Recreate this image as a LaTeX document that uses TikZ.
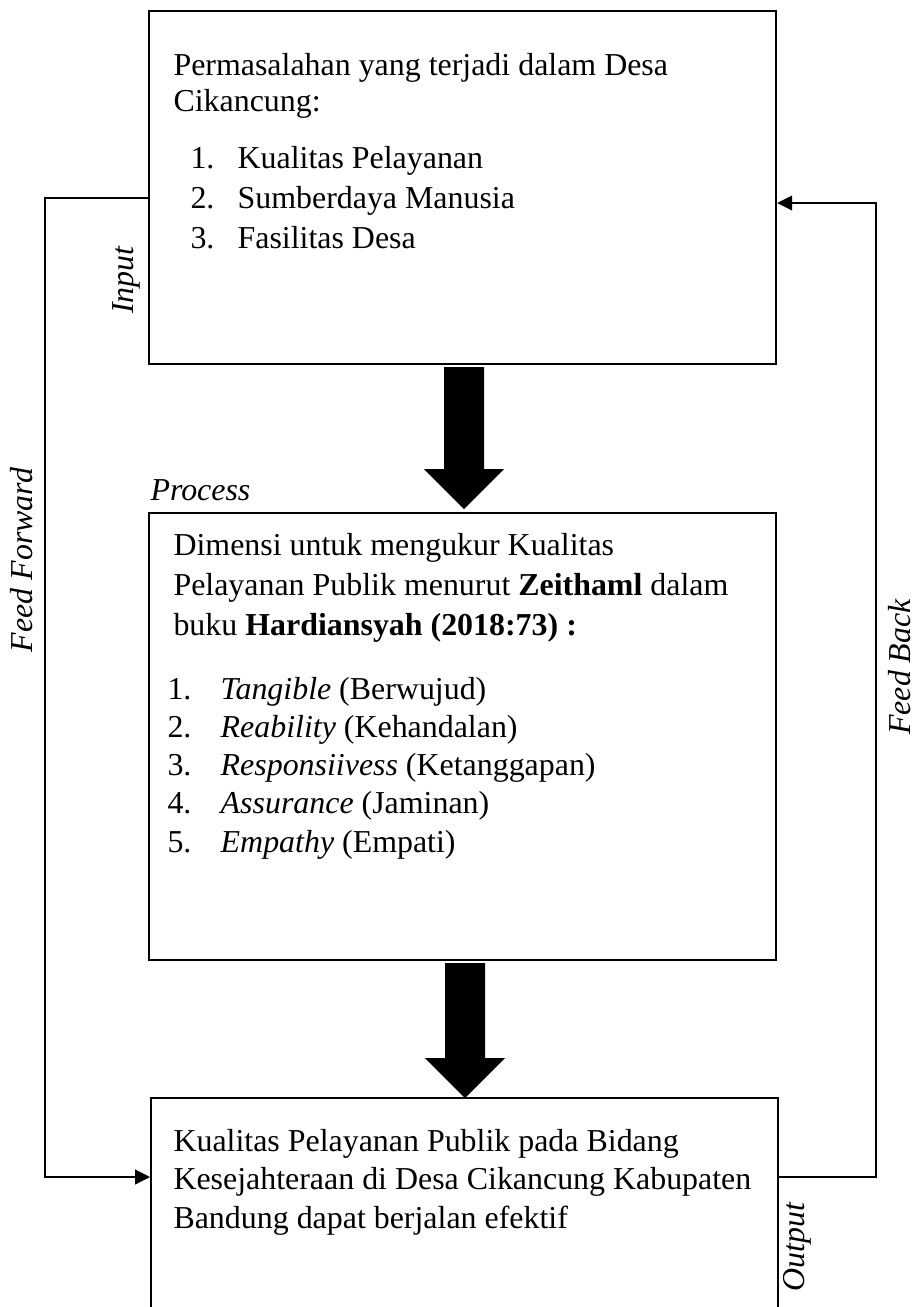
\documentclass[tikz,border=0pt]{standalone}
\usepackage{fontspec}
\setmainfont{Liberation Serif}
\usetikzlibrary{arrows.meta}

\tikzset{
  box/.style={draw, line width=0.8pt, anchor=north west, inner sep=0pt},
  boxtext/.style={anchor=base west, align=left, inner sep=0pt},
  flow/.style={line width=0.45pt, -{Triangle[length=5.6pt, width=5.6pt]}},
  tag/.style={font=\fontsize{12}{14}\selectfont\itshape, inner sep=0pt},
  bigarrow/.style={fill=black},
}
\newcommand{\itm}[2]{\makebox[#1][l]{#2}}

\begin{document}
\begin{tikzpicture}[x=0.376pt, y=-0.376pt]
    \useasboundingbox (0,0) rectangle (916,1307);
    \clip (0,0) rectangle (916,1307);

    % Main boxes
    \node[box, minimum width=235.8pt, minimum height=132.7pt] (input) at (148,10) {};
    \node[box, minimum width=235.8pt, minimum height=168.1pt] (process) at (148,512) {};
    \node[box, minimum width=235.8pt, minimum height=98pt] (output) at (150,1097) {};

    % Box texts (placed at the baseline of their last line)
    \node[boxtext, font=\fontsize{12}{13.2}\selectfont] (intitle) at (173,111)
        {Permasalahan yang terjadi dalam Desa\\Cikancung:};
    \node[boxtext, font=\fontsize{12}{14.9}\selectfont] (inlist) at (190,248)
        {\itm{17.7pt}{1.}Kualitas Pelayanan\\
         \itm{17.7pt}{2.}Sumberdaya Manusia\\
         \itm{17.7pt}{3.}Fasilitas Desa};
    \node[boxtext, font=\fontsize{12}{15}\selectfont] (prtitle) at (173,635)
        {Dimensi untuk mengukur Kualitas\\
         Pelayanan Publik menurut \textbf{Zeithaml} dalam\\
         buku \textbf{Hardiansyah (2018:73) :}};
    \node[boxtext, font=\fontsize{12}{14.3}\selectfont] (prlist) at (167,852)
        {\itm{20pt}{1.}\textit{Tangible} (Berwujud)\\
         \itm{20pt}{2.}\textit{Reability} (Kehandalan)\\
         \itm{20pt}{3.}\textit{Responsiivess} (Ketanggapan)\\
         \itm{20pt}{4.}\textit{Assurance} (Jaminan)\\
         \itm{20pt}{5.}\textit{Empathy} (Empati)};
    \node[boxtext, font=\fontsize{12}{14.3}\selectfont] (outtext) at (173,1228)
        {Kualitas Pelayanan Publik pada Bidang\\
         Kesejahteraan di Desa Cikancung Kabupaten\\
         Bandung dapat berjalan efektif};

    % Big arrows between boxes
    \fill[bigarrow] (444,367) -- (484,367) -- (484,469) -- (504,469) -- (464,509)
        -- (424,469) -- (444,469) -- cycle;
    \fill[bigarrow] (445,963) -- (485,963) -- (485,1058) -- (505,1058) -- (465,1098)
        -- (425,1058) -- (445,1058) -- cycle;

    % Feed forward and feed back lines
    \coordinate (fftop) at (45,198);
    \coordinate (ffbot) at (45,1177);
    \coordinate (fbtop) at (876,203);
    \coordinate (fbbot) at (876,1177);
    \draw[flow] (input.west |- fftop) -- (fftop) -- (ffbot) -- (output.west |- ffbot);
    \draw[flow] (output.east |- fbbot) -- (fbbot) -- (fbtop) -- (input.east |- fbtop);

    % Labels
    \node[tag, rotate=90] (inlabel) at (126,280) {Input};
    \node[tag, anchor=base west] (prlabel) at (150,500) {Process};
    \node[tag, rotate=90] (outlabel) at (797,1247) {Output};
    \node[tag, rotate=90] (fflabel) at (22,560) {Feed Forward};
    \node[tag, rotate=90] (fblabel) at (900,667) {Feed Back};
\end{tikzpicture}
\end{document}
